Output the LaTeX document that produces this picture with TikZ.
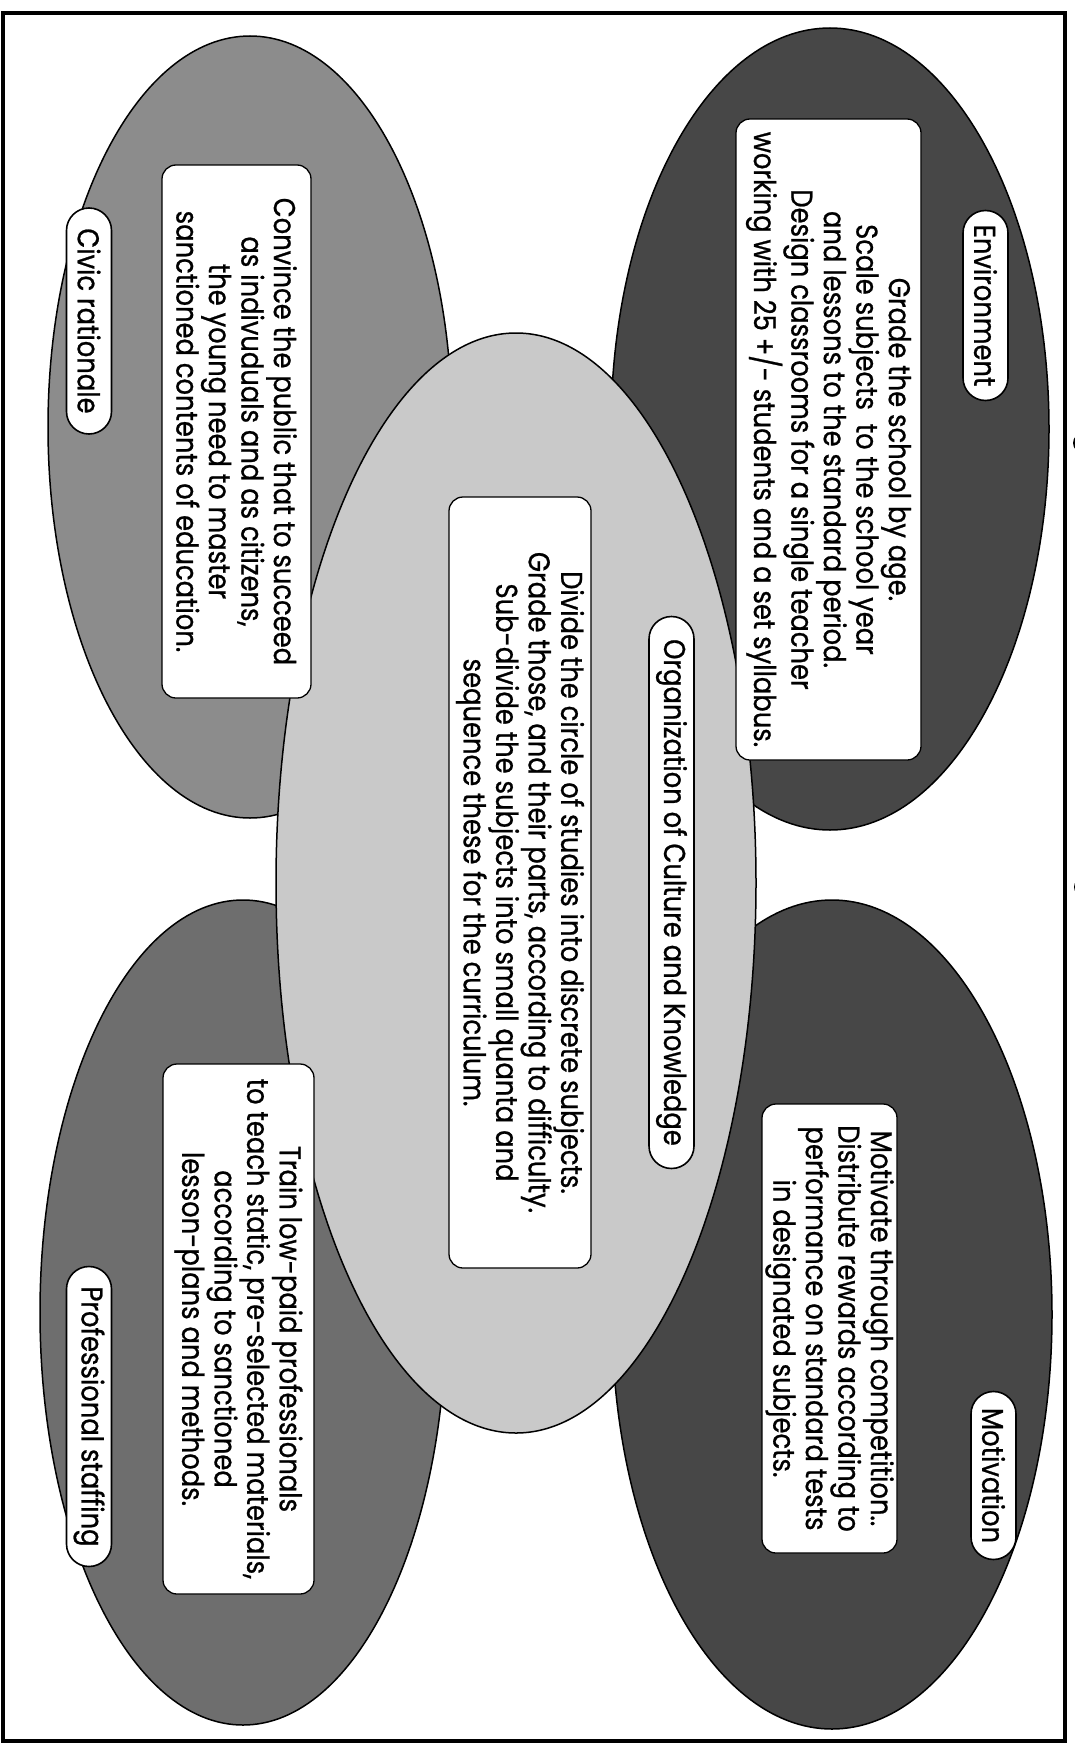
\documentclass[tikz,border=0pt]{standalone}
\usepackage{fontspec}
\setmainfont{Poppins}[FakeStretch=0.86,FakeBold=0.8]
\usetikzlibrary{shapes.geometric,shapes.misc}
\newcommand\diagfont{\fontsize{30}{32.5}\selectfont}
\definecolor{darkfill}{gray}{0.28}
\definecolor{midfill}{gray}{0.55}
\definecolor{staffill}{gray}{0.43}
\definecolor{lightfill}{gray}{0.79}
\begin{document}
\begin{tikzpicture}[x=1pt,y=-1pt,
  blob/.style={ellipse, draw=black, line width=1.5pt, inner sep=0pt},
  textbox/.style={rectangle, rounded corners=14pt, draw=black, line width=1.3pt,
    fill=white, rotate=-90, align=center, inner sep=0pt, font=\diagfont},
  pill/.style={rounded rectangle, draw=black, line width=1.6pt, fill=white,
    rotate=-90, inner sep=0pt, font=\diagfont, minimum height=45pt}]
\useasboundingbox (0,0) rectangle (1074,1745);
\fill[white] (0,0) rectangle (1074,1745);

% outer frame and the two marks beside it
\draw[line width=3.5pt] (3,13) rectangle (1065,1741);
\fill (1083,443) circle (10);
\fill (1083,887) circle (9);

% the four outer fields
\node[blob, fill=darkfill, minimum width=438pt, minimum height=802pt] (envE) at (830,429) {};
\node[blob, fill=midfill, minimum width=404pt, minimum height=782pt] (civE) at (250,427) {};
\node[blob, fill=darkfill, minimum width=440pt, minimum height=829pt] (motE) at (832,1314.5) {};
\node[blob, fill=staffill, minimum width=406pt, minimum height=825pt] (proE) at (243,1312.5) {};
% the central field
\node[blob, fill=lightfill, minimum width=480pt, minimum height=1100pt] (cenE) at (516,883) {};

% text boxes
\node[textbox, minimum width=641pt, minimum height=185pt] (envB) at (828.5,439.5)
  {Grade the school by age.\\Scale subjects\ \ to the school year\\and lessons to the standard period.\\Design classrooms for a single teacher\\working with 25 +/- students and a set syllabus.};
\node[textbox, minimum width=533pt, minimum height=149pt] (civB) at (236.5,431.5)
  {Convince the public that to succeed\\as indivuduals and as citizens,\\the young need to master\\sanctioned contents of education.};
\node[textbox, minimum width=771pt, minimum height=142pt] (cenB) at (520,882.5)
  {Divide the circle of studies into discrete subjects.\\Grade those, and their parts, according to difficulty.\\Sub-divide the subjects into small quanta and\\sequence these for the curriculum.};
\node[textbox, minimum width=530pt, minimum height=151pt] (proB) at (238.5,1329)
  {Train low-paid professionals\\to teach static, pre-selected materials,\\according to sanctioned\\lesson-plans and methods.};
\node[textbox, minimum width=449pt, minimum height=135pt] (motB) at (829.5,1328.5)
  {Motivate through competition..\\Distribute rewards according to\\performance on standard tests\\in designated subjects.};

% heading pills
\node[pill, minimum width=190pt] (envP) at (985.5,305.5) {Environment};
\node[pill, minimum width=226pt] (civP) at (89,321) {Civic rationale};
\node[pill, minimum width=552pt] (cenP) at (671.5,892.5) {Organization of Culture and Knowledge};
\node[pill, minimum width=300pt] (proP) at (89,1416.5) {Professional staffing};
\node[pill, minimum width=168pt] (motP) at (993.5,1475.5) {Motivation};
\end{tikzpicture}
\end{document}
